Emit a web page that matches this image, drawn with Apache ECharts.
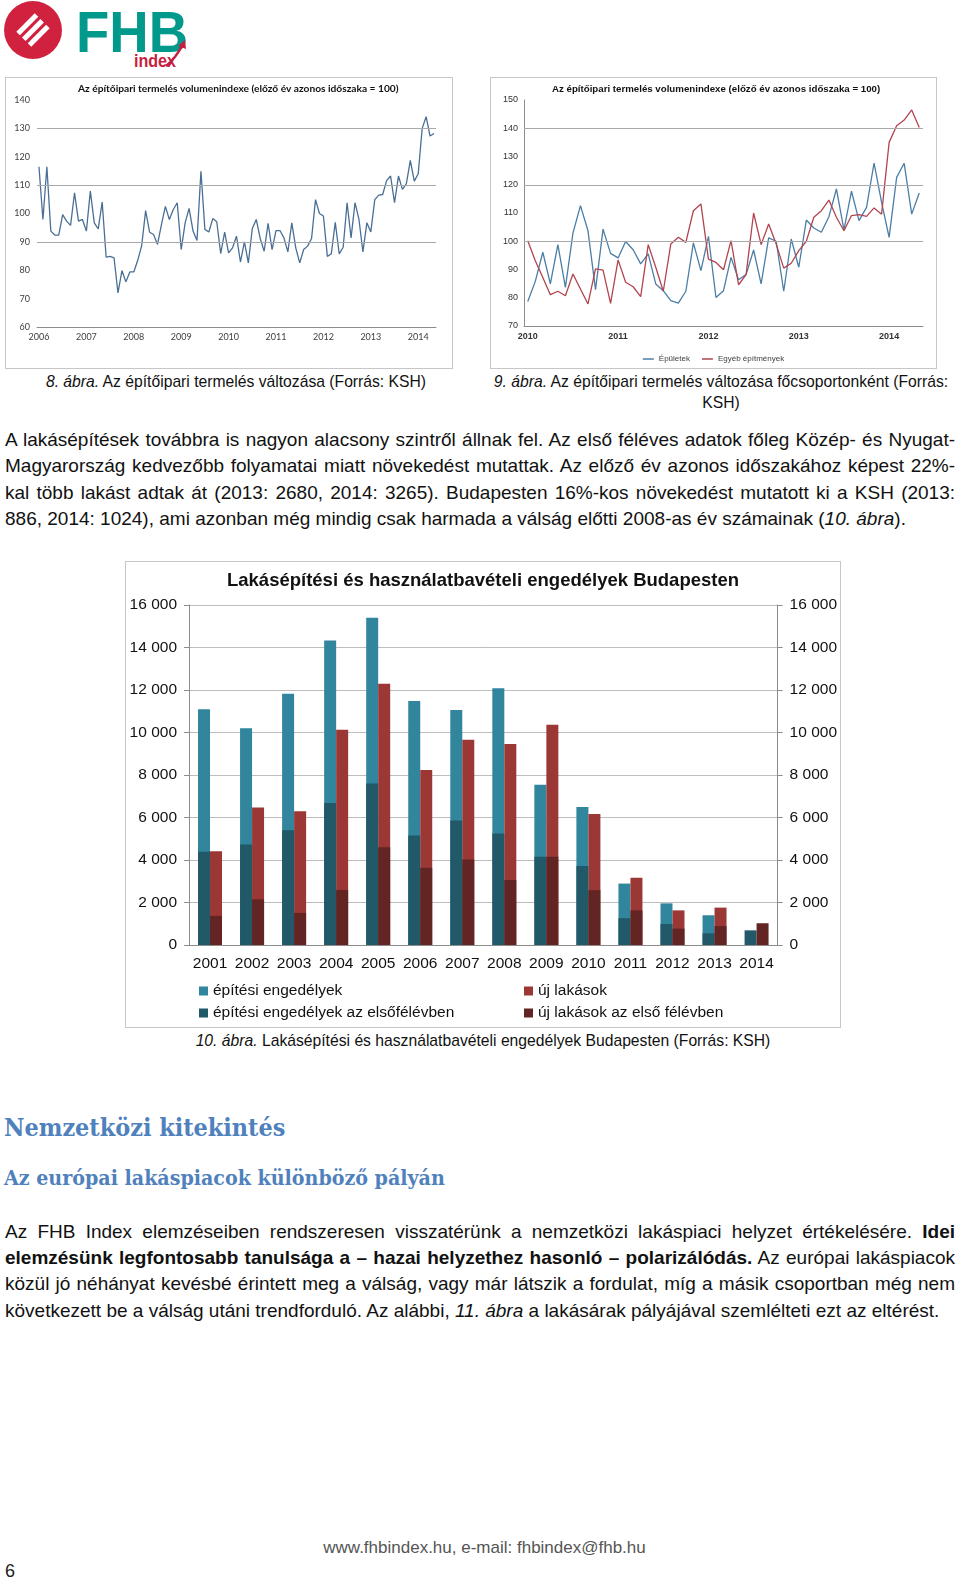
<!DOCTYPE html>
<html><head><meta charset="utf-8">
<script src="https://cdn.jsdelivr.net/npm/echarts@6/dist/echarts.min.js"></script>
<style>
html,body{margin:0;padding:0;background:#fff;}
body{width:960px;height:1583px;position:relative;overflow:hidden;font-family:'Liberation Sans',Arial,sans-serif;color:#111;}
.abs{position:absolute;}
.box{position:absolute;border:1px solid #c6c6c6;box-sizing:border-box;background:#fff;}
.ln{position:absolute;left:5px;width:950px;height:26px;line-height:26px;font-size:19px;overflow:visible;}
.j{text-align:justify;text-align-last:justify;}
.cap{position:absolute;font-size:15.7px;line-height:21px;text-align:center;color:#111;white-space:nowrap;}
.h{position:absolute;left:4px;font-family:'DejaVu Serif Condensed','DejaVu Serif',serif;font-stretch:condensed;font-weight:bold;color:#4f81bd;white-space:nowrap;}
</style></head>
<body>
<svg class="abs" style="left:0;top:0" width="200" height="74">
  <circle cx="33" cy="30" r="29" fill="#d0223f"/>
  <g stroke="#fff" stroke-width="5">
    <line x1="18.1" y1="33.5" x2="36.5" y2="15.1"/>
    <line x1="23.8" y1="39.2" x2="42.2" y2="20.8"/>
    <line x1="29.5" y1="44.9" x2="47.9" y2="26.5"/>
  </g>
  <text x="76" y="52" font-family="Liberation Sans, Arial, sans-serif" font-weight="bold" font-size="57" fill="#00998b" textLength="112" lengthAdjust="spacingAndGlyphs">FHB</text>
  <text x="134" y="67" font-family="Liberation Sans, Arial, sans-serif" font-weight="bold" font-size="19" fill="#c61f3e" textLength="42" lengthAdjust="spacingAndGlyphs">index</text>
  <path d="M166 66 Q176 58 183 44" stroke="#c61f3e" stroke-width="2.5" fill="none"/>
  <path d="M178 46 L185 40 L186 49 Z" fill="#c61f3e"/>
</svg>

<div class="box" id="c1" style="left:5px;top:77px;width:448px;height:292px;"></div>
<div class="box" id="c2" style="left:490px;top:77px;width:447px;height:292px;"></div>

<div class="cap" style="left:5px;top:371px;width:462px;"><i>8. ábra.</i> Az építőipari termelés változása (Forrás: KSH)</div>
<div class="cap" style="left:484px;top:371px;width:474px;"><i>9. ábra.</i> Az építőipari termelés változása főcsoportonként (Forrás:<br>KSH)</div>

<div class="ln j" style="top:427px;">A lakásépítések továbbra is nagyon alacsony szintről állnak fel. Az első féléves adatok főleg Közép- és Nyugat-</div>
<div class="ln j" style="top:453px;">Magyarország kedvezőbb folyamatai miatt növekedést mutattak. Az előző év azonos időszakához képest 22%-</div>
<div class="ln j" style="top:480px;">kal több lakást adtak át (2013: 2680, 2014: 3265). Budapesten 16%-kos növekedést mutatott ki a KSH (2013:</div>
<div class="ln" style="top:506px;">886, 2014: 1024), ami azonban még mindig csak harmada a válság előtti 2008-as év számainak (<i>10. ábra</i>).</div>

<div class="box" id="c3" style="left:125px;top:561px;width:716px;height:467px;"></div>
<div class="cap" style="left:125px;top:1030px;width:716px;"><i>10. ábra.</i> Lakásépítési és használatbavételi engedélyek Budapesten (Forrás: KSH)</div>

<div class="h" style="top:1111px;font-size:24.9px;line-height:34px;">Nemzetközi kitekintés</div>
<div class="h" style="top:1163px;font-size:21.2px;line-height:30px;">Az európai lakáspiacok különböző pályán</div>

<div class="ln j" style="top:1219px;">Az FHB Index elemzéseiben rendszeresen visszatérünk a nemzetközi lakáspiaci helyzet értékelésére. <b>Idei</b></div>
<div class="ln j" style="top:1245px;"><b>elemzésünk legfontosabb tanulsága a – hazai helyzethez hasonló – polarizálódás.</b> Az európai lakáspiacok</div>
<div class="ln j" style="top:1271px;">közül jó néhányat kevésbé érintett meg a válság, vagy már látszik a fordulat, míg a másik csoportban még nem</div>
<div class="ln" style="top:1298px;">következett be a válság utáni trendforduló. Az alábbi, <i>11. ábra</i> a lakásárak pályájával szemlélteti ezt az eltérést.</div>

<div class="abs" style="left:0;width:969px;top:1536px;text-align:center;font-size:17px;line-height:24px;color:#555;">www.fhbindex.hu, e-mail: fhbindex@fhb.hu</div>
<div class="abs" style="left:5px;top:1559px;font-size:18px;line-height:24px;color:#222;">6</div>

<script>
// ---------- DATA ----------
const c1Title = 'Az építőipari termelés volumenindexe (előző év azonos időszaka = 100)';
const c1Years = ['2006','2007','2008','2009','2010','2011','2012','2013','2014'];
const c1Values = [
 116.5, 97.9, 116.5, 93.8, 92.4, 92.4, 99.6, 97.3, 95.8, 107.3, 97.3, 97.9,
 93.8, 107.9, 96.7, 94.6, 104.0, 84.6, 84.9, 84.4, 72.0, 79.9, 75.9, 79.4,
 79.4, 83.5, 88.7, 101.0, 93.4, 92.6, 89.1, 96.1, 102.5, 97.9, 101.4, 103.8,
 87.3, 96.7, 101.8, 93.8, 90.5, 114.9, 94.4, 93.5, 98.2, 97.1, 85.9, 93.4,
 86.1, 87.9, 92.0, 82.9, 90.0, 82.6, 94.7, 97.9, 91.2, 86.7, 96.5, 87.3,
 94.0, 94.0, 91.4, 86.5, 96.7, 87.9, 82.6, 87.3, 88.5, 91.2, 104.9, 100.0,
 99.1, 84.9, 85.8, 96.9, 85.8, 88.1, 103.8, 91.4, 103.8, 97.9, 86.5, 96.7,
 93.5, 104.9, 106.5, 106.7, 111.6, 113.2, 103.8, 113.2, 108.5, 110.5, 118.7, 111.4,
 114.0, 130.0, 134.1, 127.3, 128.2
];
const c1GridLines = [90, 110, 130];

const c2Title = 'Az építőipari termelés volumenindexe (előző év azonos időszaka = 100)';
const c2Years = ['2010','2011','2012','2013','2014'];
const c2Names = ['Épületek', 'Egyéb építmények'];
const c2Buildings = [
 78.7, 85.8, 96.1, 84.9, 98.8, 83.7, 102.9, 112.6, 103.7, 82.9, 104.3, 95.7,
 94.1, 99.9, 97.0, 92.0, 95.5, 84.9, 82.5, 79.0, 78.1, 82.3, 99.4, 89.6,
 101.7, 80.1, 82.5, 94.3, 86.4, 88.2, 96.9, 84.9, 101.2, 100.0, 82.3, 100.8,
 90.8, 107.5, 104.7, 103.2, 108.7, 118.5, 104.0, 117.7, 107.3, 112.0, 127.7, 113.8,
 101.4, 122.6, 127.6, 109.6, 117.1
];
const c2Other = [
 100.2, 93.1, 87.2, 81.1, 82.3, 80.7, 88.4, 83.1, 77.8, 90.2, 89.8, 78.0,
 93.4, 85.5, 83.9, 80.4, 98.8, 90.8, 82.3, 99.0, 101.4, 99.6, 110.8, 113.2,
 93.7, 92.5, 89.9, 100.2, 84.6, 88.2, 110.0, 98.8, 106.1, 99.0, 90.5, 92.2,
 96.7, 100.0, 108.5, 110.8, 114.6, 108.5, 103.7, 109.1, 109.4, 108.8, 111.8, 109.6,
 135.0, 140.9, 142.9, 146.5, 140.3
];
const c2GridLines = [100, 120, 140];

const c3Title = 'Lakásépítési és használatbavételi engedélyek Budapesten';
const c3Years = ['2001','2002','2003','2004','2005','2006','2007','2008','2009','2010','2011','2012','2013','2014'];
const c3Names = ['építési engedélyek', 'új lakások', 'építési engedélyek az elsőfélévben', 'új lakások az első félévben'];
const permitsYear = [11100, 10200, 11820, 14330, 15400, 11480, 11060, 12080, 7540, 6500, 2890, 1960, 1400, null];
const newHomesYear = [4410, 6470, 6290, 10130, 12300, 8230, 9660, 9460, 10370, 6170, 3170, 1630, 1760, null];
const permitsH1 = [4390, 4730, 5400, 6680, 7600, 5150, 5860, 5250, 4150, 3720, 1260, 990, 550, 690];
const newHomesH1 = [1370, 2150, 1510, 2590, 4600, 3630, 4020, 3060, 4150, 2580, 1630, 770, 886, 1024];

// ---------- CHARTS ----------
const SANS = "'Liberation Sans', Arial, sans-serif";
function months(years, n) {
  const out = [];
  for (const y of years) for (let m = 1; m <= 12; m++) out.push(y + '-' + (m < 10 ? '0' + m : m));
  return out.slice(0, n);
}
const isJan = (i, v) => v.slice(5) === '01';
const yearOf = v => v.slice(0, 4);

const c1 = echarts.init(document.getElementById('c1'));
c1.setOption({
  animation: false,
  title: { text: c1Title, left: 72, top: 6, padding: 0, textStyle: { fontFamily: 'Lato, sans-serif', fontSize: 10.2, fontWeight: 'bold', color: '#111' } },
  grid: { left: 31, top: 22, width: 399, height: 227 },
  xAxis: { type: 'category', data: months(c1Years, c1Values.length), boundaryGap: true,
    axisLine: { lineStyle: { color: '#8c8c8c' } },
    axisTick: { interval: 2, length: 3, lineStyle: { color: '#8c8c8c' } },
    axisLabel: { interval: isJan, formatter: yearOf, fontFamily: 'Lato, sans-serif', fontSize: 9, color: '#404040', margin: 6 } },
  yAxis: { type: 'value', min: 60, max: 140, interval: 10,
    axisLine: { show: false }, axisTick: { show: false }, splitLine: { show: false },
    axisLabel: { fontFamily: 'Lato, sans-serif', fontSize: 9, color: '#404040', margin: 7 } },
  series: [{ type: 'line', data: c1Values, symbol: 'none', lineStyle: { color: '#4a6f95', width: 1.3 },
    markLine: { silent: true, symbol: 'none', animation: false, label: { show: false },
      lineStyle: { color: '#a9a9a9', type: 'solid', width: 1 }, data: c1GridLines.map(v => ({ yAxis: v })) } }]
});

const c2 = echarts.init(document.getElementById('c2'));
c2.setOption({
  animation: false,
  title: { text: c2Title, left: 61, top: 6, padding: 0, textStyle: { fontFamily: SANS, fontSize: 9.7, fontWeight: 'bold', color: '#111' } },
  grid: { left: 33, top: 22, width: 399, height: 226 },
  legend: { data: c2Names, top: 277, left: 'center', padding: 0, icon: 'rect', itemWidth: 11, itemHeight: 1.5, itemGap: 12,
    textStyle: { fontFamily: SANS, fontSize: 8, color: '#404040' } },
  xAxis: { type: 'category', data: months(c2Years, c2Buildings.length), boundaryGap: true,
    axisLine: { lineStyle: { color: '#8c8c8c' } },
    axisTick: { interval: 2, length: 3, lineStyle: { color: '#8c8c8c' } },
    axisLabel: { interval: isJan, formatter: yearOf, fontFamily: SANS, fontSize: 9, fontWeight: 'bold', color: '#333', margin: 6 } },
  yAxis: { type: 'value', min: 70, max: 150, interval: 10,
    axisLine: { show: true, lineStyle: { color: '#8c8c8c' } }, axisTick: { show: false }, splitLine: { show: false },
    axisLabel: { fontFamily: SANS, fontSize: 9, color: '#333', margin: 6 } },
  series: [
    { name: c2Names[0], type: 'line', data: c2Buildings, symbol: 'none', lineStyle: { color: '#4a7ea6', width: 1.3 }, itemStyle: { color: '#4a7ea6' },
      markLine: { silent: true, symbol: 'none', animation: false, label: { show: false },
        lineStyle: { color: '#a9a9a9', type: 'solid', width: 1 }, data: c2GridLines.map(v => ({ yAxis: v })) } },
    { name: c2Names[1], type: 'line', data: c2Other, symbol: 'none', lineStyle: { color: '#b2444f', width: 1.3 }, itemStyle: { color: '#b2444f' } }
  ]
});

const fmt = v => String(v).replace(/\B(?=(\d{3})+(?!\d))/g, ' ');
const COLORS = ['#31859c', '#9b3836', '#215968', '#632523'];
const c3 = echarts.init(document.getElementById('c3'));
const yAx = (pos) => ({ type: 'value', min: 0, max: 16000, interval: 2000, position: pos,
  axisLine: { show: true, lineStyle: { color: '#8c8c8c' } },
  axisTick: { show: true, length: 5, lineStyle: { color: '#8c8c8c' } },
  splitLine: { show: pos === 'left', lineStyle: { color: '#bdbdbd' } },
  axisLabel: { formatter: fmt, fontFamily: SANS, fontSize: 15.5, color: '#111', margin: 12 } });
const leg = (name, left, top) => ({ data: [name], left: left, top: top, padding: 0, itemWidth: 9, itemHeight: 9, icon: 'rect',
  textStyle: { fontFamily: SANS, fontSize: 15.5, color: '#111' } });
c3.setOption({
  animation: false,
  title: { text: c3Title, left: 'center', top: 9, padding: 0, textStyle: { fontFamily: SANS, fontWeight: 'bold', fontSize: 18.5, color: '#111' } },
  grid: { left: 63, top: 43, width: 590, height: 340 },
  legend: [leg(c3Names[0], 73, 421), leg(c3Names[2], 73, 443), leg(c3Names[1], 398, 421), leg(c3Names[3], 398, 443)],
  xAxis: [
    { type: 'category', data: c3Years, axisLine: { lineStyle: { color: '#8c8c8c' } },
      axisTick: { length: 5, lineStyle: { color: '#8c8c8c' } },
      axisLabel: { interval: 0, fontFamily: SANS, fontSize: 15.5, color: '#111', margin: 11 } },
    { type: 'category', data: c3Years, show: false }
  ],
  yAxis: [yAx('left'), yAx('right')],
  series: [
    { name: c3Names[0], type: 'bar', xAxisIndex: 0, data: permitsYear, barWidth: 12, barGap: '0%', itemStyle: { color: COLORS[0] } },
    { name: c3Names[1], type: 'bar', xAxisIndex: 0, data: newHomesYear, barWidth: 12, barGap: '0%', itemStyle: { color: COLORS[1] } },
    { name: c3Names[2], type: 'bar', xAxisIndex: 1, data: permitsH1, barWidth: 12, barGap: '0%', itemStyle: { color: COLORS[2] } },
    { name: c3Names[3], type: 'bar', xAxisIndex: 1, data: newHomesH1, barWidth: 12, barGap: '0%', itemStyle: { color: COLORS[3] } }
  ]
});

// keep justified lines on one line
document.querySelectorAll('.ln').forEach(el => {
  let fs = parseFloat(getComputedStyle(el).fontSize);
  while (el.scrollHeight > 30 && fs > 10) { fs -= 0.1; el.style.fontSize = fs + 'px'; }
});
</script>
</body></html>
